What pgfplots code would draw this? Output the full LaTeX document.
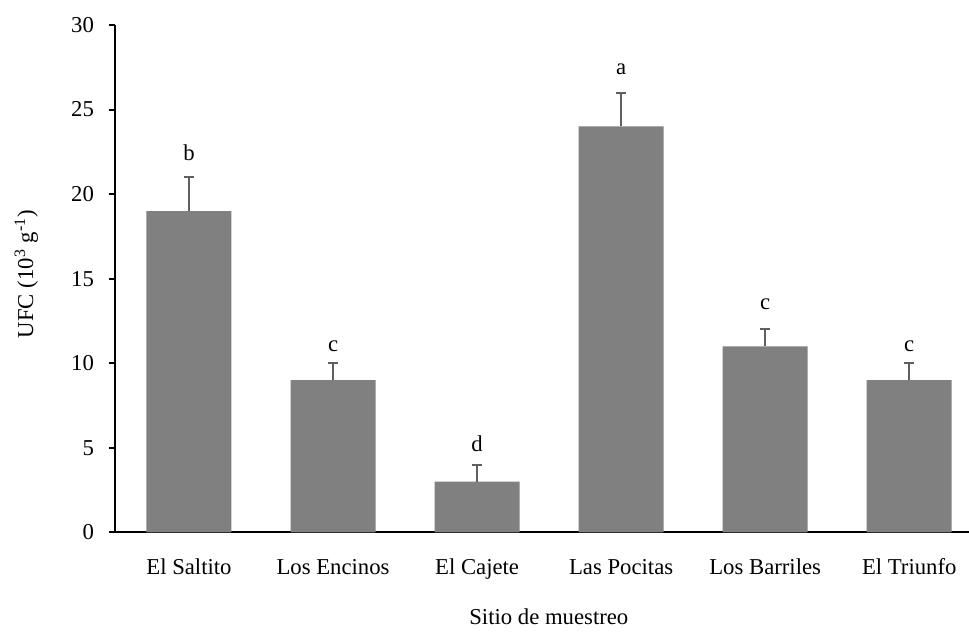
\documentclass[border=0pt]{standalone}
\usepackage{fontspec}
\setmainfont{Liberation Serif}
\usepackage{pgfplots}
\pgfplotsset{compat=1.18}
\usepackage{pgfplotstable}

\definecolor{barra}{HTML}{808080}
\definecolor{error}{HTML}{5F5F5F}

% x: sitio, val: UFC, err: error, lety: altura de la letra
\pgfplotstableread{
x  val  err  lety  lab
0  19   2    22.0  b
1  9    1    10.7  c
2  3    1    4.75  d
3  24   2    27.1  a
4  11   1    13.2  c
5  9    1    10.7  c
}\datos

\begin{document}
\begin{tikzpicture}
% marco de la imagen
\useasboundingbox (-57.5bp,-50bp) rectangle (427bp,266.15bp);
\begin{axis}[
  at={(0,0)}, anchor=south west,
  scale only axis,
  width=427bp, height=253.65bp,
  xmin=-0.5137, xmax=5.415,
  ymin=0, ymax=30,
  axis x line*=bottom,
  axis y line*=left,
  axis line style={black, line width=1bp},
  xtick=data,
  xticklabels={El Saltito,Los Encinos,El Cajete,Las Pocitas,Los Barriles,El Triunfo},
  x tick style={draw=none},
  ytick={0,5,...,30},
  y tick style={black, line width=1bp},
  tick align=outside,
  major tick length=3bp,
  font=\fontsize{11.4}{13}\selectfont,
  /pgf/number format/assume math mode=true,
  xticklabel style={anchor=base, yshift=-18bp},
  yticklabel style={xshift=-4bp},
  clip=false,
  ylabel={UFC (10\textsuperscript{3} g\textsuperscript{-1})},
  ylabel style={at={(axis description cs:-0.096,0.509)}, anchor=base},
  xlabel={Sitio de muestreo},
  xlabel style={at={(axis description cs:0.508,0)}, anchor=base, yshift=-46bp},
]
\addplot[ybar, bar width=42.5bp, fill=barra, draw=none,
  error bars/.cd, y dir=plus, y explicit,
  error bar style={color=error, line width=1bp},
  error mark options={color=error, line width=1bp, mark size=2.5bp, rotate=90}]
  table[x=x, y=val, y error=err] {\datos};

\addplot[draw=none, mark=none, nodes near coords, point meta=explicit symbolic,
  every node near coord/.append style={anchor=base, inner sep=0pt}]
  table[x=x, y=lety, meta=lab] {\datos};
\end{axis}
\end{tikzpicture}
\end{document}
